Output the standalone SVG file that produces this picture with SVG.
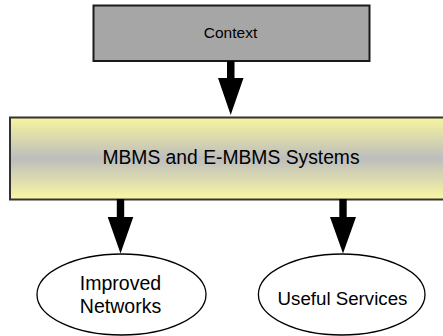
<svg xmlns="http://www.w3.org/2000/svg" width="443" height="336" viewBox="0 0 443 336">
  <style>
    text { font-family: "Liberation Sans", Arial, sans-serif; fill: #000; text-anchor: middle; }
    .arrow { fill: #000; stroke: none; }
    .oval { fill: #fff; stroke: #000; stroke-width: 1.3; }
  </style>
  <defs>
    <linearGradient id="band" x1="0" y1="0" x2="0" y2="1">
      <stop offset="0" stop-color="#f7f59e"/>
      <stop offset="0.5" stop-color="#bdbdbd"/>
      <stop offset="1" stop-color="#faf8a2"/>
    </linearGradient>
  </defs>

  <g id="context">
    <rect x="93.5" y="5.5" width="276" height="55.5" fill="#a6a6a6" stroke="#1a1a1a" stroke-width="2"/>
    <text x="230.5" y="37.5" font-size="15.5">Context</text>
  </g>

  <g id="systems">
    <rect x="10" y="117.5" width="445" height="82" fill="url(#band)" stroke="#333" stroke-width="2"/>
    <text x="231" y="163.5" font-size="19.3">MBMS and E-MBMS Systems</text>
  </g>

  <g id="networks">
    <ellipse class="oval" cx="121.5" cy="294.5" rx="84.5" ry="40.5"/>
    <text x="120.5" y="290" font-size="19.5">Improved</text>
    <text x="120.5" y="313" font-size="19.5">Networks</text>
  </g>

  <g id="services">
    <ellipse class="oval" cx="341.7" cy="294.5" rx="83.3" ry="40.5"/>
    <text x="342.5" y="305" font-size="18.7">Useful Services</text>
  </g>

  <g id="connectors">
    <polygon class="arrow" points="227,61 234.5,61 234.5,78 243.5,78 230.7,115 218,78 227,78"/>
    <polygon class="arrow" points="116.8,199 124.2,199 124.2,217 133.3,217 120.5,253.5 107.7,217 116.8,217"/>
    <polygon class="arrow" points="339.3,199 346.7,199 346.7,217 356,217 343,253.5 330,217 339.3,217"/>
  </g>
</svg>
